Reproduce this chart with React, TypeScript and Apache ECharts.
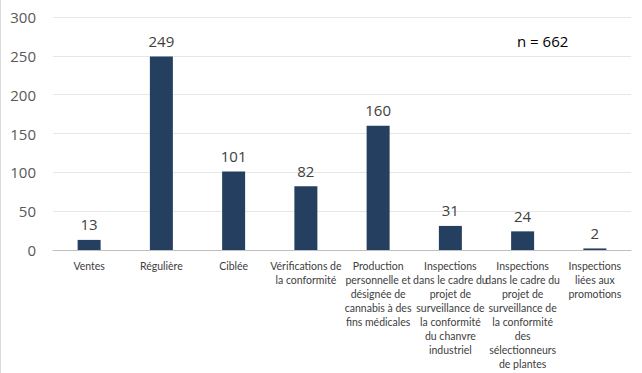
import React, { useEffect, useRef } from "react";
import * as echarts from "echarts";

const categories = [
  "Ventes",
  "Régulière",
  "Ciblée",
  "Vérifications de la conformité",
  "Production personnelle et désignée de cannabis à des fins médicales",
  "Inspections dans le cadre du projet de surveillance de la conformité du chanvre industriel",
  "Inspections dans le cadre du projet de surveillance de la conformité des sélectionneurs de plantes",
  "Inspections liées aux promotions",
];
const tickLabels = [
  "Ventes",
  "Régulière",
  "Ciblée",
  "Vérifications de\nla conformité",
  "Production\npersonnelle et\ndésignée de\ncannabis à des\nfins médicales",
  "Inspections\ndans le cadre du\nprojet de\nsurveillance de\nla conformité\ndu chanvre\nindustriel",
  "Inspections\ndans le cadre du\nprojet de\nsurveillance de\nla conformité\ndes\nsélectionneurs\nde plantes",
  "Inspections\nliées aux\npromotions",
];
const values = [13, 249, 101, 82, 160, 31, 24, 2];
const totalLabel = "n = 662";

export default function App() {
  const ref = useRef<HTMLDivElement>(null);
  useEffect(() => {
    if (!ref.current) return;
    const chart = echarts.init(ref.current, null, { renderer: "svg" });
    chart.setOption({
      animation: false,
      backgroundColor: "#ffffff",
      grid: { left: 52, right: 11, top: 17, bottom: 123 },
      xAxis: {
        type: "category",
        data: categories,
        axisTick: { show: false },
        axisLine: { lineStyle: { color: "#BFBFBF", width: 1 } },
        axisLabel: {
          interval: 0,
          margin: 9,
          color: "#404040",
          fontSize: 10.5,
          lineHeight: 14,
          fontFamily: "Lato",
          formatter: (_v: string, i: number) => tickLabels[i],
        },
      },
      yAxis: {
        type: "value",
        min: 0,
        max: 300,
        interval: 50,
        axisLine: { show: false },
        axisTick: { show: false },
        splitLine: { lineStyle: { color: "#E6E6E6", width: 1 } },
        axisLabel: {
          margin: 17,
          color: "#595959",
          fontSize: 15,
          fontFamily: "Open Sans",
        },
      },
      graphic: [
        {
          type: "text",
          left: 516,
          top: 33,
          style: {
            text: totalLabel,
            fill: "#000000",
            fontSize: 15,
            fontFamily: "Open Sans",
          },
        },
      ],
      series: [
        {
          type: "bar",
          data: values,
          barWidth: 23,
          itemStyle: { color: "#243F60" },
          label: {
            show: true,
            position: "top",
            distance: 8,
            color: "#404040",
            fontSize: 15,
            fontFamily: "Open Sans",
          },
        },
      ],
    });
    return () => chart.dispose();
  }, []);
  return (
    <div
      ref={ref}
      style={{
        position: "fixed",
        left: 0,
        top: 0,
        width: 642,
        height: 373,
        borderLeft: "1px solid #D9D9D9",
        boxSizing: "border-box",
      }}
    />
  );
}
